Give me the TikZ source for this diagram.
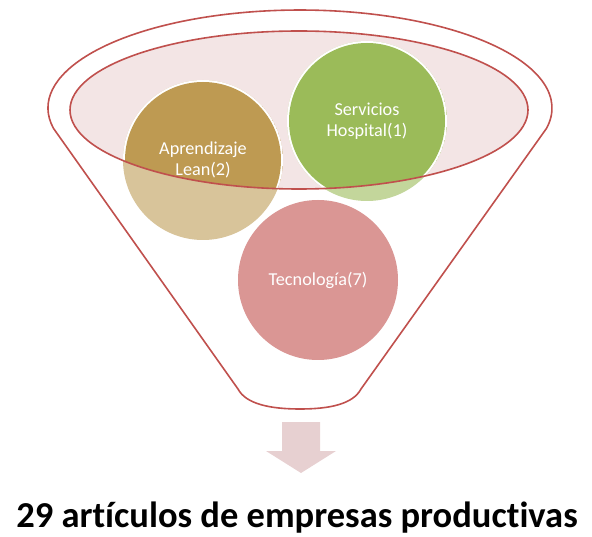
\documentclass[tikz,border=0pt]{standalone}
\usepackage{fontspec}
\newfontfamily\carlito[Ligatures=NoCommon]{Carlito}
\usetikzlibrary{positioning}
\definecolor{funnelred}{RGB}{192,80,77}
\definecolor{rimpink}{RGB}{243,229,229}
\definecolor{leanlight}{RGB}{216,196,154}
\definecolor{leandark}{RGB}{190,154,82}
\definecolor{hosplight}{RGB}{195,214,155}
\definecolor{hospdark}{RGB}{155,187,89}
\definecolor{techlight}{RGB}{218,150,148}
\definecolor{techdark}{RGB}{218,150,148}
\definecolor{arrowpink}{RGB}{231,208,209}

\begin{document}
\begin{tikzpicture}[x=1pt, y=-1pt,
			rim/.style={draw=funnelred, line width=1.6pt},
			topic/.style={circle, minimum size=160pt, inner sep=0pt, fill=#1light, text=white, align=center, font=\carlito\fontsize{18.2}{20.5}\selectfont,
				path picture={
					\begin{scope}
						\clip (rimc) ellipse[x radius=229, y radius=79];
						\fill[white] (path picture bounding box.center) circle[radius=80];
						\fill[#1dark] (path picture bounding box.center) circle[radius=78];
					\end{scope}}},
			]
			\useasboundingbox (0,0) rectangle (592,537);
			
			% Funnel
			\coordinate (rimc) at (299,110);
			\draw[rim, fill=white] (53.5,128.4) arc[start angle=168, end angle=372, x radius=252, y radius=98]
				-- (361,389) .. controls (353,404) and (330,409) .. (300,409)
				.. controls (270,409) and (246,404) .. (238,389) -- cycle;
			\fill[rimpink] (rimc) ellipse[x radius=229, y radius=79];
			
			% Nodes
			\node (lean) [topic=lean] at (203,160) {Aprendizaje\\Lean(2)};
			\node (hosp) [topic=hosp] at (367,121) {Servicios\\Hospital(1)};
			\node (tech) [topic=tech] at (318,280) {Tecnología(7)};
			\draw[rim] (rimc) ellipse[x radius=229, y radius=79];
			
			% Arrow
			\fill[arrowpink] (282,422) -- (320,422) -- (320,451) -- (336,451) -- (301,473) -- (266,451) -- (282,451) -- cycle;
			\node (total) [anchor=base, font=\carlito\bfseries\fontsize{36.5}{40}\selectfont] at (297,527) {29 artículos de empresas productivas};
		\end{tikzpicture}
\end{document}
